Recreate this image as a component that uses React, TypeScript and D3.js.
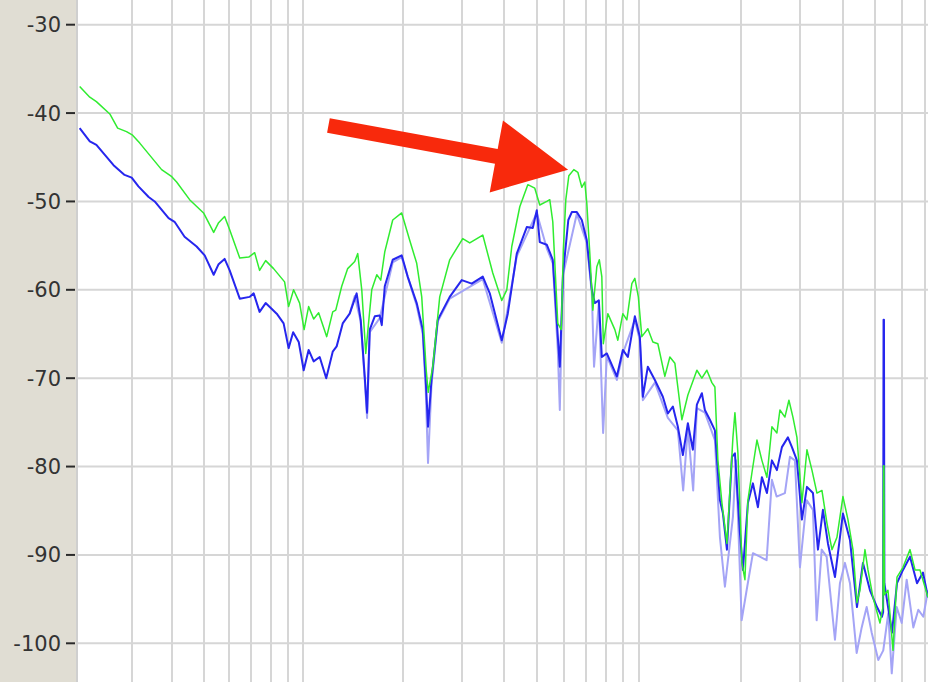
import React from 'react';
import * as d3 from 'd3';

const W = 928;
const H = 682;

// dB axis ticks
const yTicks: number[] = [-30, -40, -50, -60, -70, -80, -90, -100];
// frequency grid lines (Hz), log-like axis
const freqGrid: number[] = [30, 40, 50, 60, 70, 80, 90, 100, 200, 300, 400, 500, 600, 700, 800, 900, 1000, 2000, 3000, 4000, 5000, 6000, 7000];

// [frequency Hz, level dB]
const greenData: [number, number][] = [
  [20.4, -37.0], [22.0, -38.2], [23.1, -38.7], [25.5, -40.1], [27.0, -41.7], [28.8, -42.1], [30.1, -42.5], [31.7, -43.4],
  [37.1, -46.4], [39.9, -47.2], [41.3, -47.8], [45.3, -49.8], [50.0, -51.3], [53.7, -53.5], [55.6, -52.4], [58.0, -51.7],
  [60.1, -53.2], [64.5, -56.4], [68.7, -56.3], [71.6, -55.8], [74.1, -57.8], [77.3, -56.7], [81.7, -57.6], [88.2, -59.1],
  [90.7, -61.9], [93.9, -60.0], [97.9, -61.5], [101.0, -64.5], [104.2, -61.9], [107.9, -63.3], [111.7, -62.6], [118.1, -65.3],
  [123.1, -62.5], [125.7, -62.3], [131.0, -59.6], [136.5, -57.6], [143.3, -56.8], [146.3, -55.9], [150.4, -60.0], [154.6, -67.2],
  [157.2, -64.2], [161.1, -60.0], [166.8, -58.3], [171.4, -58.9], [176.2, -55.7], [186.1, -52.1], [197.9, -51.3], [209.1, -54.4],
  [219.4, -57.0], [227.1, -60.8], [234.2, -69.1], [237.4, -71.6], [244.9, -68.7], [256.9, -60.8], [275.1, -56.6], [300.7, -54.2],
  [315.5, -54.7], [344.9, -53.8], [369.3, -58.1], [392.7, -61.2], [406.4, -60.0], [420.5, -55.1], [444.1, -50.6], [469.1, -48.1],
  [492, -48.5], [509, -50.4], [533.9, -50.0], [545, -49.8], [556.3, -52.3], [575.6, -63.8], [589.6, -64.5], [597.7, -55.5],
  [608, -49.8], [620.6, -47.1], [642.1, -46.4], [659.9, -46.7], [678, -48.4], [692, -47.8], [701.5, -50.2], [716.1, -55.9],
  [730.9, -62.3], [751.1, -57.4], [764, -56.6], [777.1, -58.5], [785.1, -66.1], [809.6, -62.7], [849.2, -64.5], [866.7, -65.7],
  [896.8, -62.7], [921.6, -63.4], [953.5, -59.3], [973.2, -58.7], [996.7, -60.8], [1020.6, -65.3], [1063.2, -64.4], [1100.2, -65.9],
  [1138.3, -66.1], [1193.8, -69.8], [1235.2, -67.6], [1278, -68.3], [1340.4, -74.7], [1396.4, -71.9], [1484.6, -69.1], [1535.9, -70.0],
  [1589.1, -69.1], [1644.2, -70.5], [1678.2, -71.0], [1712.8, -79.3], [1760.4, -84.1], [1821.4, -88.7], [1859, -82.7], [1897.4, -76.7],
  [1923.4, -73.9], [1963.1, -78.5], [2017.1, -90.9], [2058.7, -92.8], [2101.2, -83.8], [2159.2, -80.7], [2234, -77.0], [2310.7, -79.3],
  [2390.8, -81.2], [2473.4, -75.5], [2559.1, -76.2], [2612, -73.6], [2702.4, -74.4], [2777, -72.5], [2853.7, -74.4], [2932.5, -76.7],
  [3034, -84.1], [3139.1, -78.1], [3247.9, -80.4], [3360.4, -83.0], [3476, -82.7], [3596.4, -86.4], [3721.3, -89.4], [3850.2, -88.0],
  [4010, -83.4], [4148.9, -86.0], [4292.7, -89.4], [4411.3, -95.4], [4502, -94.0], [4657.8, -89.4], [4754, -91.7], [4918.4, -94.8],
  [5158, -97.7], [5264.3, -95.9], [5285, -79.9], [5300, -79.9], [5315, -94.5], [5446.6, -94.0], [5635.9, -100.8], [5791.5, -92.5],
  [6031.8, -91.4], [6327, -89.4], [6546, -91.7], [6771, -91.7], [7150, -94.8],
];

const blueData: [number, number][] = [
  [20.4, -41.7], [22.0, -43.2], [23.1, -43.6], [26.2, -45.9], [28.4, -47.0], [29.9, -47.3], [31.4, -48.3], [33.8, -49.5],
  [35.3, -50.0], [39.0, -51.9], [40.7, -52.3], [43.7, -54.0], [47.6, -55.1], [50.4, -56.1], [53.7, -58.3], [55.6, -57.1],
  [58.0, -56.5], [60.1, -57.8], [64.5, -61.0], [69.1, -60.8], [71.1, -60.4], [74.1, -62.5], [77.3, -61.5], [83.5, -62.7],
  [87.6, -63.8], [90.7, -66.6], [93.6, -64.8], [97.3, -65.9], [100.7, -69.1], [104.2, -66.8], [107.9, -68.1], [112.5, -67.6],
  [117.7, -70.0], [123.1, -67.0], [126.5, -66.4], [131.9, -63.8], [138.4, -62.7], [145.2, -60.4], [149.3, -63.4], [153.5, -69.8],
  [156.0, -73.9], [158.9, -64.5], [164.5, -63.0], [170.2, -62.9], [172.6, -64.0], [176.2, -59.6], [186.1, -56.6], [197.9, -56.1],
  [206.2, -58.5], [219.4, -61.5], [228.7, -64.5], [233.4, -70.2], [237.1, -75.5], [242.8, -70.2], [253.4, -63.4], [275.1, -60.8],
  [298.7, -58.9], [319.8, -59.3], [344.9, -58.5], [361.8, -60.4], [392.7, -65.7], [409.2, -62.7], [435.1, -55.9], [465.9, -52.9],
  [485.3, -53.0], [498.8, -51.0], [509, -54.6], [533.9, -54.9], [556.3, -56.6], [576.6, -65.7], [583.6, -68.7], [596.9, -58.1],
  [618.4, -52.1], [633.4, -51.2], [655.4, -51.2], [678, -52.1], [701.5, -54.4], [725.9, -60.0], [740.9, -61.5], [761.5, -61.2],
  [777.1, -67.6], [804.1, -67.2], [860.8, -69.8], [896.8, -66.8], [927.9, -67.6], [973.2, -63.0], [1006.8, -65.3], [1027.6, -72.1],
  [1063.2, -68.7], [1115.3, -70.2], [1177.6, -72.1], [1218.5, -74.0], [1260.7, -73.2], [1304.4, -75.5], [1349.6, -78.7], [1396.4, -75.1],
  [1444.7, -78.1], [1484.6, -73.0], [1535.9, -71.7], [1567.6, -73.6], [1622, -74.7], [1678.2, -75.9], [1736.6, -83.8], [1772.4, -85.3],
  [1821.4, -89.4], [1884.5, -78.9], [1923.4, -78.5], [1989.8, -87.5], [2030.9, -91.7], [2101.2, -84.1], [2173.9, -81.9], [2249.3, -84.6],
  [2310.7, -81.2], [2390.8, -83.0], [2473.4, -79.3], [2559.1, -80.4], [2647.8, -77.8], [2758.2, -76.7], [2834.3, -77.8], [2932.5, -79.3],
  [3034, -86.0], [3139.1, -82.3], [3270.1, -83.0], [3383.3, -89.4], [3499.7, -84.9], [3620.9, -88.7], [3798.1, -92.5], [4010, -85.3],
  [4206, -88.3], [4411.3, -95.9], [4594.8, -90.9], [4819, -94.0], [5054.2, -95.9], [5228.6, -97.0], [5270, -96.5], [5285, -63.4],
  [5300, -63.4], [5315, -93.2], [5597.6, -98.8], [5791.5, -93.2], [6031.8, -91.7], [6327, -90.2], [6635.7, -93.2], [6910.6, -92.0],
  [7150, -94.8],
];

const faintData: [number, number][] = [
  [138.4, -62.7], [143.3, -60.7], [149.3, -63.6], [153.5, -70.2], [156.0, -74.5], [158.9, -64.8], [170.2, -63.2], [186.1, -56.9],
  [197.9, -56.3], [219.4, -61.8], [228.7, -65.0], [233.4, -71.3], [237.1, -79.6], [242.8, -70.8], [253.4, -63.6], [275.1, -61.0],
  [344.9, -58.8], [392.7, -66.0], [435.1, -56.2], [498.8, -51.3], [533.9, -55.3], [556.3, -57.0], [575.6, -66.8], [583.6, -73.6],
  [595.7, -58.4], [655.4, -51.4], [701.5, -54.7], [725.9, -60.4], [737, -68.7], [761.5, -61.4], [784, -76.2], [804.1, -67.5],
  [860.8, -70.2], [896.8, -67.2], [973.2, -63.4], [1006.8, -65.7], [1027.6, -72.5], [1115.3, -70.5], [1218.5, -74.5], [1304.4, -75.9],
  [1352.4, -82.7], [1396.4, -75.6], [1447.7, -82.7], [1484.6, -73.4], [1567.6, -73.9], [1678.2, -77.0], [1736.6, -88.0], [1796.8, -93.6],
  [1897.4, -85.7], [1936.6, -79.3], [2013.1, -97.4], [2082.6, -94.0], [2173.9, -89.8], [2279.5, -90.2], [2385.8, -90.6], [2473.4, -81.5],
  [2553.8, -83.4], [2702.4, -83.0], [2796, -78.9], [2892.8, -79.3], [2993, -91.4], [3132.6, -83.8], [3270.1, -84.9], [3353.4, -97.4],
  [3469.8, -89.4], [3588.9, -90.2], [3798.1, -99.6], [3929, -93.2], [4065, -90.9], [4206, -93.2], [4402, -101.1], [4555.6, -98.2],
  [4711.9, -95.9], [4876.4, -98.8], [5099, -101.9], [5275, -100.8], [5457.8, -96.6], [5588.3, -103.4], [5779.4, -95.9], [5980.4, -97.7],
  [6185.5, -92.8], [6470.7, -98.2], [6694.7, -96.2], [6924.7, -97.0], [7150, -94.0],
];

// annotation arrow in data coordinates [Hz, dB]
const arrowTail: [number, number] = [119.5, -41.4];
const arrowTip: [number, number] = [617.6, -46.4];

export default function App() {
  const plotLeft = 77;
  const x = d3.scaleSymlog().constant(2).domain([20, 7150]).range([plotLeft, W]);
  const y = d3.scaleLinear().domain([-30, -100]).range([24.7, 643.3]);

  const line = d3
    .line<[number, number]>()
    .x((d) => x(d[0]))
    .y((d) => y(d[1]))
    .curve(d3.curveLinear);

  // arrow geometry
  const tx = x(arrowTail[0]);
  const ty = y(arrowTail[1]);
  const px = x(arrowTip[0]);
  const py = y(arrowTip[1]);
  const dx = px - tx;
  const dy = py - ty;
  const len = Math.hypot(dx, dy);
  const ux = dx / len;
  const uy = dy / len;
  const nx = -uy;
  const ny = ux;
  const headLen = 73;
  const headHalf = 36.6;
  const shaftHalf = 7.4;
  const bx = px - ux * headLen;
  const by = py - uy * headLen;
  const arrowPts: [number, number][] = [
    [tx + nx * shaftHalf, ty + ny * shaftHalf],
    [bx + nx * shaftHalf, by + ny * shaftHalf],
    [bx + nx * headHalf, by + ny * headHalf],
    [px, py],
    [bx - nx * headHalf, by - ny * headHalf],
    [bx - nx * shaftHalf, by - ny * shaftHalf],
    [tx - nx * shaftHalf, ty - ny * shaftHalf],
  ];
  const arrowPath = 'M' + arrowPts.map((p) => p.join(',')).join('L') + 'Z';

  return (
    <svg
      width={W}
      height={H}
      style={{ position: 'absolute', left: 0, top: 0, display: 'block' }}
    >
      <defs>
        <clipPath id="plotClip">
          <rect x={plotLeft} y={0} width={W - plotLeft} height={H} />
        </clipPath>
      </defs>
      <rect x={0} y={0} width={W} height={H} fill="#ffffff" />
      <rect x={0} y={0} width={plotLeft - 1} height={H} fill="#e0ddd3" />
      {/* grid */}
      <g stroke="#d6d6d6" strokeWidth={2}>
        {freqGrid.map((f) => (
          <line key={'v' + f} x1={Math.round(x(f))} x2={Math.round(x(f))} y1={0} y2={H} />
        ))}
        {yTicks.map((v) => (
          <line key={'h' + v} x1={plotLeft} x2={W} y1={y(v)} y2={y(v)} />
        ))}
      </g>
      <line x1={plotLeft} x2={plotLeft} y1={0} y2={H} stroke="#cfcfcf" strokeWidth={2} />
      {/* axis ticks and labels */}
      <g>
        {yTicks.map((v) => (
          <g key={'t' + v}>
            <line x1={66} x2={75} y1={y(v)} y2={y(v)} stroke="#2a2a2a" strokeWidth={2} />
            <text
              x={61}
              y={y(v)}
              dy="0.36em"
              textAnchor="end"
              fontFamily="DejaVu Sans, sans-serif"
              fontSize={21}
              fill="#333333"
            >
              {v}
            </text>
          </g>
        ))}
      </g>
      {/* series */}
      <g clipPath="url(#plotClip)" fill="none" strokeLinejoin="round">
        <path d={line(faintData) || ''} stroke="#a4a4f6" strokeWidth={2} />
        <path d={line(blueData) || ''} stroke="#2626ee" strokeWidth={2} />
        <path d={line(greenData) || ''} stroke="#30ec30" strokeWidth={1.5} />
      </g>
      {/* annotation arrow */}
      <path d={arrowPath} fill="#f8290c" />
    </svg>
  );
}
